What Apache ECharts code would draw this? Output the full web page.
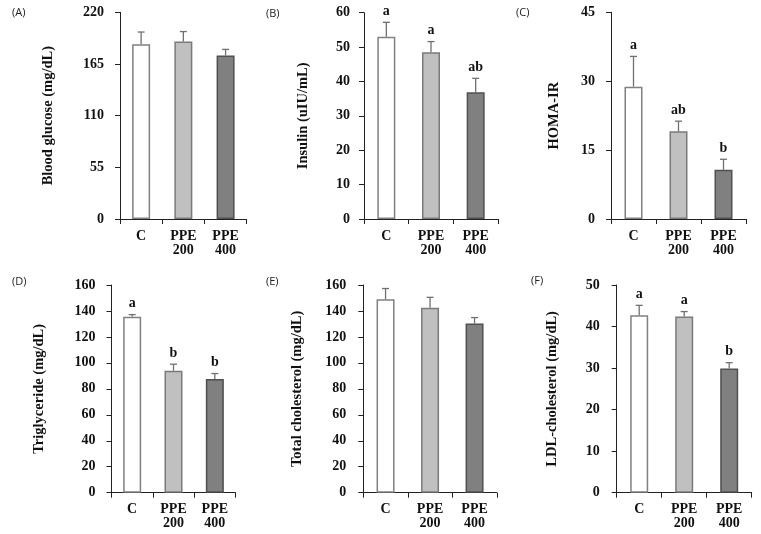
<!DOCTYPE html>
<html>
<head>
<meta charset="utf-8">
<script src="https://cdn.jsdelivr.net/npm/echarts@6/dist/echarts.min.js"></script>
<style>
html,body{margin:0;padding:0;background:#fff;}
#chart{width:761px;height:534px;}
</style>
</head>
<body>
<div id="chart"></div>
<script>
// ---- Data ----
const categories = ['C', 'PPE\n200', 'PPE\n400'];

const glucoseMean = [186, 189, 174];
const glucoseErr = [13, 10.5, 6.5];
const glucoseLetters = ['', '', ''];
const glucoseTicks = { max: 220, interval: 55 };

const insulinMean = [53.0, 48.5, 36.9];
const insulinErr = [4.2, 3.1, 4.0];
const insulinLetters = ['a', 'a', 'ab'];
const insulinTicks = { max: 60, interval: 10 };

const homaMean = [28.8, 19.1, 10.7];
const homaErr = [6.6, 2.2, 2.3];
const homaLetters = ['a', 'ab', 'b'];
const homaTicks = { max: 45, interval: 15 };

const tgMean = [135.5, 94.0, 87.5];
const tgErr = [1.7, 5.0, 4.3];
const tgLetters = ['a', 'b', 'b'];
const tgTicks = { max: 160, interval: 20 };

const tcMean = [149.0, 142.5, 130.3];
const tcErr = [8.3, 8.0, 4.6];
const tcLetters = ['', '', ''];
const tcTicks = { max: 160, interval: 20 };

const ldlMean = [42.7, 42.4, 29.9];
const ldlErr = [2.4, 1.2, 1.4];
const ldlLetters = ['a', 'a', 'b'];
const ldlTicks = { max: 50, interval: 10 };

const panelTitles = ['(A)', '(B)', '(C)', '(D)', '(E)', '(F)'];
const yNames = ['Blood glucose (mg/dL)', 'Insulin (uIU/mL)', 'HOMA-IR',
  'Triglyceride (mg/dL)', 'Total cholesterol (mg/dL)', 'LDL-cholesterol (mg/dL)'];

// ---- Layout / style ----
const panels = [
  { mean: glucoseMean, err: glucoseErr, letters: glucoseLetters, ticks: glucoseTicks,
    grid: { left: 120, top: 12.3, width: 126.7, height: 206.7 }, gap: 64, lm: 16, title: [12, 7] },
  { mean: insulinMean, err: insulinErr, letters: insulinLetters, ticks: insulinTicks,
    grid: { left: 364, top: 12.7, width: 134, height: 206.3 }, gap: 53, lm: 14, title: [266, 8] },
  { mean: homaMean, err: homaErr, letters: homaLetters, ticks: homaTicks,
    grid: { left: 611, top: 12.3, width: 135, height: 206.7 }, gap: 49, lm: 16, title: [516, 7] },
  { mean: tgMean, err: tgErr, letters: tgLetters, ticks: tgTicks,
    grid: { left: 111.5, top: 285, width: 124, height: 207.7 }, gap: 65, lm: 16, title: [12, 276] },
  { mean: tcMean, err: tcErr, letters: tcLetters, ticks: tcTicks,
    grid: { left: 363.3, top: 285, width: 133.5, height: 207.7 }, gap: 59, lm: 17, title: [266, 276] },
  { mean: ldlMean, err: ldlErr, letters: ldlLetters, ticks: ldlTicks,
    grid: { left: 616.7, top: 285, width: 135, height: 207.7 }, gap: 57, lm: 17, title: [531, 275] }
];

const fills = ['#ffffff', '#c0c0c0', '#808080'];
const borders = ['#808080', '#7a7a7a', '#505050'];
const serif = '"Liberation Serif", "Times New Roman", serif';
const axisColor = '#222';

const option = {
  backgroundColor: '#fff',
  animation: false,
  title: [], grid: [], xAxis: [], yAxis: [], series: []
};

panels.forEach((p, k) => {
  option.title.push({
    text: panelTitles[k], left: p.title[0], top: p.title[1], padding: 0,
    textStyle: { fontFamily: '"Open Sans", "Noto Sans", sans-serif', fontSize: 11, fontWeight: 'normal', color: '#222' }
  });
  option.grid.push(Object.assign({ containLabel: false }, p.grid));
  option.xAxis.push({
    type: 'category', gridIndex: k, data: categories,
    axisLine: { show: true, lineStyle: { color: axisColor, width: 1 } },
    axisTick: { show: true, length: 5, interval: 0, lineStyle: { color: axisColor } },
    axisLabel: { interval: 0, margin: 10, fontFamily: serif, fontWeight: 'bold', fontSize: 14, lineHeight: 14, color: '#111' },
    splitLine: { show: false }
  });
  option.yAxis.push({
    type: 'value', gridIndex: k, min: 0, max: p.ticks.max, interval: p.ticks.interval,
    name: yNames[k], nameLocation: 'middle', nameGap: p.gap, nameRotate: 90,
    nameTextStyle: { fontFamily: serif, fontWeight: 'bold', fontSize: 14.5, color: '#111' },
    axisLine: { show: true, lineStyle: { color: axisColor, width: 1 } },
    axisTick: { show: true, length: 5, lineStyle: { color: axisColor } },
    axisLabel: { margin: p.lm, fontFamily: serif, fontWeight: 'bold', fontSize: 14, color: '#111' },
    splitLine: { show: false }
  });
  option.series.push({
    type: 'bar', xAxisIndex: k, yAxisIndex: k, barWidth: 18,
    data: p.mean.map((v, i) => ({
      value: v,
      itemStyle: { color: fills[i], borderColor: borders[i], borderWidth: 1.5 }
    })),
    z: 2
  });
  option.series.push({
    type: 'custom', xAxisIndex: k, yAxisIndex: k, z: 3,
    data: p.mean.map((v, i) => [i, v, v + p.err[i]]),
    renderItem: function (params, api) {
      const i = api.value(0);
      const base = api.coord([i, api.value(1)]);
      const top = api.coord([i, api.value(2)]);
      const letter = p.letters[i];
      const children = [
        { type: 'line', shape: { x1: base[0], y1: base[1], x2: top[0], y2: top[1] },
          style: { stroke: '#707070', lineWidth: 1.3 } },
        { type: 'line', shape: { x1: top[0] - 3.5, y1: top[1], x2: top[0] + 3.5, y2: top[1] },
          style: { stroke: '#707070', lineWidth: 1.3 } }
      ];
      if (letter) {
        children.push({
          type: 'text',
          style: { text: letter, x: top[0], y: top[1] - 4, align: 'center', verticalAlign: 'bottom',
            font: 'bold 14px ' + serif, fill: '#111' }
        });
      }
      return { type: 'group', children: children };
    }
  });
});

const chart = echarts.init(document.getElementById('chart'), null, { renderer: 'canvas' });
chart.setOption(option);
</script>
</body>
</html>
